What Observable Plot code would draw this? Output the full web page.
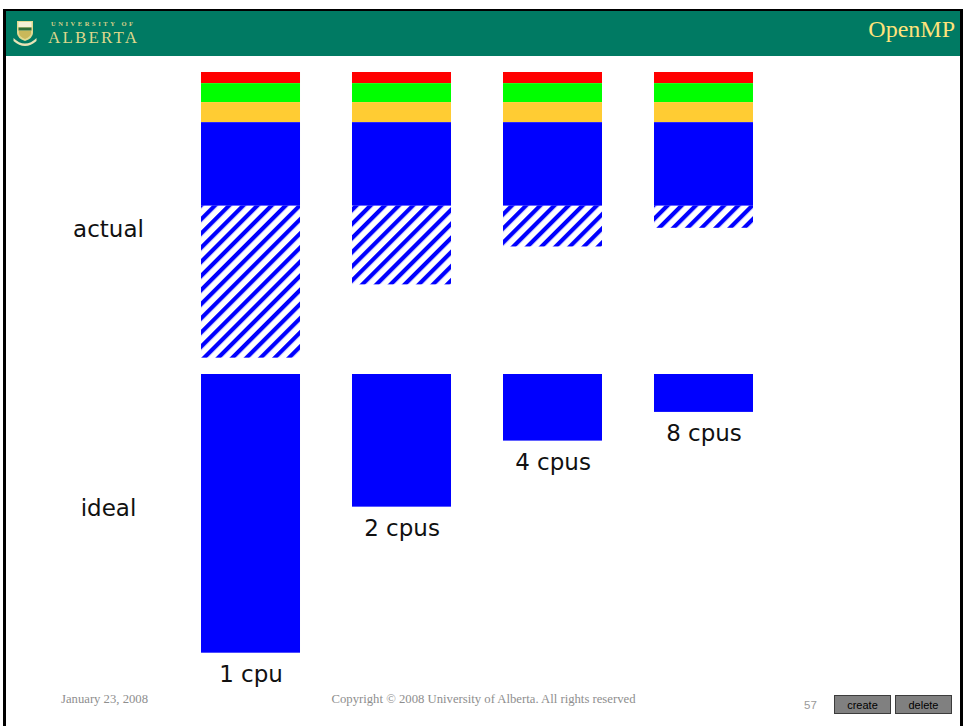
<!DOCTYPE html>
<html>
<head>
<meta charset="utf-8">
<script src="https://cdn.jsdelivr.net/npm/d3@7"></script>
<script src="https://cdn.jsdelivr.net/npm/@observablehq/plot@0.6"></script>
<style>
  html, body { margin: 0; padding: 0; background: #fff; }
  #slide { position: relative; width: 964px; height: 726px; overflow: hidden; }
  #slide > svg { position: absolute; left: 0; }
  #deco { top: 0; }
</style>
</head>
<body>
<div id="slide">
  <svg id="deco" width="964" height="726" xmlns="http://www.w3.org/2000/svg">
    <!-- slide frame -->
    <rect x="3" y="9" width="960" height="2" fill="#000"/>
    <rect x="3" y="9" width="3" height="717" fill="#000"/>
    <rect x="960" y="9" width="3" height="717" fill="#000"/>
    <!-- header band -->
    <rect x="6" y="11" width="954" height="45" fill="#007a63"/>
    <!-- university crest -->
    <g>
      <path d="M17 21 H33 V33 Q33 38 25 41 Q17 38 17 33 Z" fill="#e0da92"/>
      <rect x="18.5" y="22" width="13" height="5" fill="#f4f1d8"/>
      <rect x="18.5" y="27.5" width="13" height="3" fill="#2f6e3a"/>
      <path d="M19 31 H31 V33 Q31 36.5 25 39 Q19 36.5 19 33 Z" fill="#c9b85a"/>
      <path d="M13.5 38 Q19 43.5 25 43.5 Q31 43.5 36.5 38 L36.5 41 Q31 46 25 46 Q19 46 13.5 41 Z" fill="#e8e4b6"/>
    </g>
    <text x="51" y="25.5" font-family="Liberation Serif" font-weight="bold" font-size="6.5" fill="#d6d08a" textLength="82" lengthAdjust="spacing">UNIVERSITY OF</text>
    <text x="48" y="42.5" font-family="Liberation Serif" font-size="17" fill="#ddd78c" textLength="89" lengthAdjust="spacing">ALBERTA</text>
    <text x="955" y="37" text-anchor="end" font-family="Liberation Serif" font-size="24" fill="#ffe37b">OpenMP</text>
    <!-- footer -->
    <text x="61" y="703" font-family="Liberation Serif" font-size="12.5" fill="#8e8e8e" textLength="87" lengthAdjust="spacingAndGlyphs">January 23, 2008</text>
    <text x="331.5" y="702.5" font-family="Liberation Serif" font-size="12.5" fill="#8e8e8e" textLength="304" lengthAdjust="spacingAndGlyphs">Copyright © 2008 University of Alberta. All rights reserved</text>
    <text x="804" y="708.5" font-family="Liberation Sans" font-size="11.5" fill="#9a9a9a">57</text>
    <rect x="834.5" y="695.5" width="56" height="18" fill="#808080" stroke="#3c3c3c"/>
    <text x="862.5" y="708.5" text-anchor="middle" font-family="Liberation Sans" font-size="11" fill="#000">create</text>
    <rect x="895.5" y="695.5" width="56" height="18" fill="#808080" stroke="#3c3c3c"/>
    <text x="923.5" y="708.5" text-anchor="middle" font-family="Liberation Sans" font-size="11" fill="#000">delete</text>
  </svg>
</div>
<script>
// Execution time per run, in arbitrary time units, for 1, 2, 4 and 8 processors.
const cpus = ["1 cpu", "2 cpus", "4 cpus", "8 cpus"];

// "actual" runs: stacked from the top down
const redPart     = [4, 4, 4, 4];
const greenPart   = [6.8, 6.8, 6.8, 6.8];
const orangePart  = [7.2, 7.2, 7.2, 7.2];
const solidPart   = [30, 30, 30, 30];
const hatchedPart = [54.5, 28.2, 14.6, 7.9];

// "ideal" runs
const idealTime = [100, 47.6, 23.9, 13.6];

const partFill = {
  red: "#ff0000",
  green: "#00ff00",
  orange: "#ffcc33",
  solid: "#0000ff",
  hatched: "url(#hatch)"
};

const actualRows = cpus.flatMap((cpu, i) => [
  {cpu, part: "red", t: redPart[i]},
  {cpu, part: "green", t: greenPart[i]},
  {cpu, part: "orange", t: orangePart[i]},
  {cpu, part: "solid", t: solidPart[i]},
  {cpu, part: "hatched", t: hatchedPart[i]}
]);
const idealRows = cpus.map((cpu, i) => ({cpu, t: idealTime[i]}));

const pxPerUnit = 2.787;          // same vertical scale for both rows
const actualDomain = [0, 105];
const idealDomain = [0, 110];

const xScale = {domain: cpus, paddingInner: 0.346, paddingOuter: 0, axis: null};
const common = {
  width: 964,
  marginLeft: 201,
  marginRight: 211,
  marginTop: 8,
  color: {type: "identity"},
  style: {fontFamily: "DejaVu Sans", fontSize: "23px", background: "transparent", overflow: "visible"}
};

// diagonal blue/white stripes
const hatchDefs = () => {
  const defs = d3.create("svg:defs");
  const p = defs.append("pattern")
    .attr("id", "hatch")
    .attr("patternUnits", "userSpaceOnUse")
    .attr("width", 10).attr("height", 10)
    .attr("patternTransform", "rotate(45)");
  p.append("rect").attr("width", 10).attr("height", 10).attr("fill", "#fff");
  p.append("rect").attr("width", 4.2).attr("height", 10).attr("fill", "#0000ff");
  return defs.node();
};

const actualPlot = Plot.plot({
  ...common,
  height: 8 + (actualDomain[1] - actualDomain[0]) * pxPerUnit,
  marginBottom: 0,
  x: xScale,
  y: {domain: actualDomain, reverse: true, axis: null},
  marks: [
    hatchDefs,
    Plot.barY(actualRows, {x: "cpu", y: "t", fill: d => partFill[d.part]}),
    Plot.text(["actual"], {text: d => d, frameAnchor: "left", textAnchor: "middle",
      lineAnchor: "bottom", dx: -93, dy: 18.4, fill: "#111", fontSize: 23})
  ]
});

const idealPlot = Plot.plot({
  ...common,
  height: 8 + (idealDomain[1] - idealDomain[0]) * pxPerUnit + 14,
  marginBottom: 14,
  x: xScale,
  y: {domain: idealDomain, reverse: true, axis: null},
  marks: [
    Plot.barY(idealRows, {x: "cpu", y: "t", fill: "#0000ff"}),
    Plot.text(idealRows, {x: "cpu", y: "t", text: "cpu", lineAnchor: "bottom", dy: 29,
      fill: "#111", fontSize: 23}),
    Plot.text(["ideal"], {text: d => d, frameAnchor: "left", textAnchor: "middle",
      lineAnchor: "bottom", dx: -93, dy: -11.3, fill: "#111", fontSize: 23})
  ]
});

actualPlot.style.top = "64px";
idealPlot.style.top = "366px";
const slide = document.getElementById("slide");
slide.appendChild(actualPlot);
slide.appendChild(idealPlot);
</script>
</body>
</html>
